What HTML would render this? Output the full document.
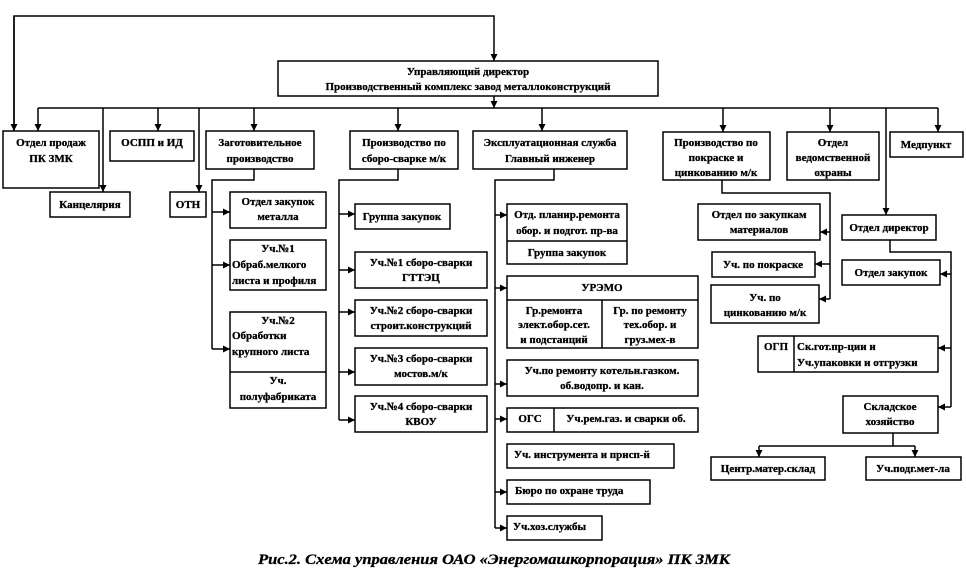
<!DOCTYPE html>
<html><head><meta charset="utf-8"><style>
html,body{margin:0;padding:0;background:#fff;}
svg{display:block;}
text{font-family:"Liberation Serif",serif;font-weight:bold;font-size:11px;fill:#000;stroke:#000;stroke-width:0.3;}
.c{text-anchor:middle;}
</style></head><body>
<svg width="966" height="578" viewBox="0 0 966 578" xmlns="http://www.w3.org/2000/svg">
<defs>
<marker id="a" viewBox="0 0 10 10" refX="10" refY="5" markerWidth="7" markerHeight="7" orient="auto" markerUnits="userSpaceOnUse"><path d="M0,0L10,5L0,10z" fill="#000"/></marker>
</defs>
<g fill="none" stroke="#000" stroke-width="1.5">
<path d="M14,131V16H494V61" marker-end="url(#a)"/>
<path d="M14,16V131" marker-end="url(#a)"/>
<path d="M494,96V108" marker-end="url(#a)"/>
<path d="M38,108H938"/>
<path d="M38,108V131" marker-end="url(#a)"/>
<path d="M158,108V131" marker-end="url(#a)"/>
<path d="M103,108V192" marker-end="url(#a)"/>
<path d="M199,108V192" marker-end="url(#a)"/>
<path d="M254,108V131" marker-end="url(#a)"/>
<path d="M398,108V131" marker-end="url(#a)"/>
<path d="M542,108V131" marker-end="url(#a)"/>
<path d="M723,108V132" marker-end="url(#a)"/>
<path d="M830,108V132" marker-end="url(#a)"/>
<path d="M938,108V132" marker-end="url(#a)"/>
<path d="M886,108V215" marker-end="url(#a)"/>
<path d="M254,169V180H212V349"/>
<path d="M212,212H230" marker-end="url(#a)"/>
<path d="M212,265H230" marker-end="url(#a)"/>
<path d="M212,349H230" marker-end="url(#a)"/>
<path d="M398,169V180H339V420"/>
<path d="M339,214H355" marker-end="url(#a)"/>
<path d="M339,270H355" marker-end="url(#a)"/>
<path d="M339,312H355" marker-end="url(#a)"/>
<path d="M339,372H355" marker-end="url(#a)"/>
<path d="M339,420H355" marker-end="url(#a)"/>
<path d="M554,169V180H495V528"/>
<path d="M495,215H507" marker-end="url(#a)"/>
<path d="M495,288H507" marker-end="url(#a)"/>
<path d="M495,384H507" marker-end="url(#a)"/>
<path d="M495,419H507" marker-end="url(#a)"/>
<path d="M495,492H507" marker-end="url(#a)"/>
<path d="M495,528H507" marker-end="url(#a)"/>
<path d="M722,180V193H830V299"/>
<path d="M830,232H820" marker-end="url(#a)"/>
<path d="M830,264H815" marker-end="url(#a)"/>
<path d="M830,299H819" marker-end="url(#a)"/>
<path d="M890,240V252H951V407"/>
<path d="M951,274H940" marker-end="url(#a)"/>
<path d="M951,348H938" marker-end="url(#a)"/>
<path d="M951,407H938" marker-end="url(#a)"/>
<path d="M893,433V446"/>
<path d="M759,446H915"/>
<path d="M759,446V457" marker-end="url(#a)"/>
<path d="M915,446V457" marker-end="url(#a)"/>
<rect x="278" y="61" width="380" height="35"/>
<rect x="3" y="131" width="96" height="57"/>
<rect x="110" y="131" width="84" height="30"/>
<rect x="50" y="192" width="80" height="25"/>
<rect x="170" y="192" width="36" height="25"/>
<rect x="206" y="131" width="108" height="38"/>
<rect x="230" y="192" width="96" height="36"/>
<rect x="230" y="240" width="96" height="50"/>
<rect x="230" y="312" width="96" height="96"/>
<path d="M230,372H326"/>
<rect x="350" y="131" width="108" height="38"/>
<rect x="355" y="204" width="95" height="25"/>
<rect x="355" y="252" width="132" height="36"/>
<rect x="355" y="300" width="132" height="36"/>
<rect x="355" y="348" width="132" height="37"/>
<rect x="355" y="396" width="132" height="36"/>
<rect x="473" y="131" width="154" height="38"/>
<rect x="507" y="204" width="120" height="60"/>
<path d="M507,241H627"/>
<rect x="507" y="276" width="191" height="72"/>
<path d="M507,300H698M602,300V348"/>
<rect x="507" y="360" width="191" height="36"/>
<rect x="507" y="408" width="191" height="24"/>
<path d="M554,408V432"/>
<rect x="507" y="444" width="167" height="24"/>
<rect x="507" y="480" width="143" height="24"/>
<rect x="507" y="516" width="95" height="24"/>
<rect x="663" y="132" width="107" height="48"/>
<rect x="698" y="204" width="122" height="36"/>
<rect x="712" y="252" width="103" height="25"/>
<rect x="711" y="285" width="108" height="38"/>
<rect x="787" y="132" width="92" height="48"/>
<rect x="890" y="132" width="73" height="25"/>
<rect x="842" y="215" width="94" height="25"/>
<rect x="842" y="260" width="98" height="25"/>
<rect x="758" y="336" width="180" height="36"/>
<path d="M794,336V372"/>
<rect x="843" y="396" width="95" height="37"/>
<rect x="711" y="457" width="114" height="23"/>
<rect x="866" y="457" width="95" height="23"/>
</g>
<g>
<text class="c" x="468" y="75">Управляющий директор</text>
<text class="c" x="468" y="90">Производственный комплекс завод металлоконструкций</text>
<text class="c" x="51" y="146">Отдел продаж</text>
<text class="c" x="51" y="162">ПК ЗМК</text>
<text class="c" x="152" y="146">ОСПП и ИД</text>
<text class="c" x="90" y="208">Канцелярия</text>
<text class="c" x="188" y="208">ОТН</text>
<text class="c" x="260" y="146">Заготовительное</text>
<text class="c" x="260" y="162">производство</text>
<text class="c" x="278" y="205">Отдел закупок</text>
<text class="c" x="278" y="220">металла</text>
<text class="c" x="278" y="252">Уч.№1</text>
<text x="232" y="268">Обраб.мелкого</text>
<text x="232" y="284">листа и профиля</text>
<text class="c" x="278" y="324">Уч.№2</text>
<text x="232" y="339">Обработки</text>
<text x="232" y="355">крупного листа</text>
<text class="c" x="278" y="384">Уч.</text>
<text class="c" x="278" y="400">полуфабриката</text>
<text class="c" x="404" y="146">Производство по</text>
<text class="c" x="404" y="162">сборо-сварке м/к</text>
<text class="c" x="402" y="220">Группа закупок</text>
<text class="c" x="421" y="266">Уч.№1  сборо-сварки</text>
<text class="c" x="421" y="281">ГТТЭЦ</text>
<text class="c" x="421" y="314">Уч.№2  сборо-сварки</text>
<text class="c" x="421" y="329">строит.конструкций</text>
<text class="c" x="421" y="362">Уч.№3  сборо-сварки</text>
<text class="c" x="421" y="377">мостов.м/к</text>
<text class="c" x="421" y="410">Уч.№4  сборо-сварки</text>
<text class="c" x="421" y="425">КВОУ</text>
<text class="c" x="550" y="146">Эксплуатационная служба</text>
<text class="c" x="550" y="162">Главный инженер</text>
<text class="c" x="567" y="218">Отд.  планир.ремонта</text>
<text class="c" x="567" y="234">обор. и подгот. пр-ва</text>
<text class="c" x="567" y="256">Группа закупок</text>
<text class="c" x="602" y="291">УРЭМО</text>
<text class="c" x="554" y="314">Гр.ремонта</text>
<text class="c" x="554" y="328">элект.обор.сет.</text>
<text class="c" x="554" y="343">и подстанций</text>
<text class="c" x="650" y="314">Гр. по ремонту</text>
<text class="c" x="650" y="328">тех.обор.  и</text>
<text class="c" x="650" y="343">груз.мех-в</text>
<text class="c" x="602" y="374">Уч.по ремонту котельн.газком.</text>
<text class="c" x="602" y="389">об.водопр. и кан.</text>
<text class="c" x="530" y="422">ОГС</text>
<text class="c" x="626" y="422">Уч.рем.газ. и сварки об.</text>
<text x="514" y="458">Уч. инструмента и присп-й</text>
<text x="515" y="494">Бюро по охране  труда</text>
<text x="513" y="530">Уч.хоз.службы</text>
<text class="c" x="716" y="146">Производство по</text>
<text class="c" x="716" y="161">покраске и</text>
<text class="c" x="716" y="176">цинкованию м/к</text>
<text class="c" x="833" y="146">Отдел</text>
<text class="c" x="833" y="161">ведомственной</text>
<text class="c" x="833" y="176">охраны</text>
<text class="c" x="926" y="148">Медпункт</text>
<text class="c" x="759" y="218">Отдел  по закупкам</text>
<text class="c" x="759" y="233">материалов</text>
<text class="c" x="763" y="268">Уч. по покраске</text>
<text class="c" x="765" y="301">Уч. по</text>
<text class="c" x="765" y="316">цинкованию м/к</text>
<text class="c" x="889" y="231">Отдел директор</text>
<text class="c" x="891" y="276">Отдел закупок</text>
<text class="c" x="776" y="350">ОГП</text>
<text x="797" y="350">Ск.гот.пр-ции  и</text>
<text x="797" y="366">Уч.упаковки и отгрузки</text>
<text class="c" x="890" y="410">Складское</text>
<text class="c" x="890" y="425">хозяйство</text>
<text class="c" x="768" y="472">Центр.матер.склад</text>
<text class="c" x="913" y="472">Уч.подг.мет-ла</text>
<text x="258" y="564" textLength="472" lengthAdjust="spacingAndGlyphs" style="font-style:italic;font-size:15px;">Рис.2. Схема управления ОАО «Энергомашкорпорация» ПК ЗМК</text>
</g>
</svg>
</body></html>
